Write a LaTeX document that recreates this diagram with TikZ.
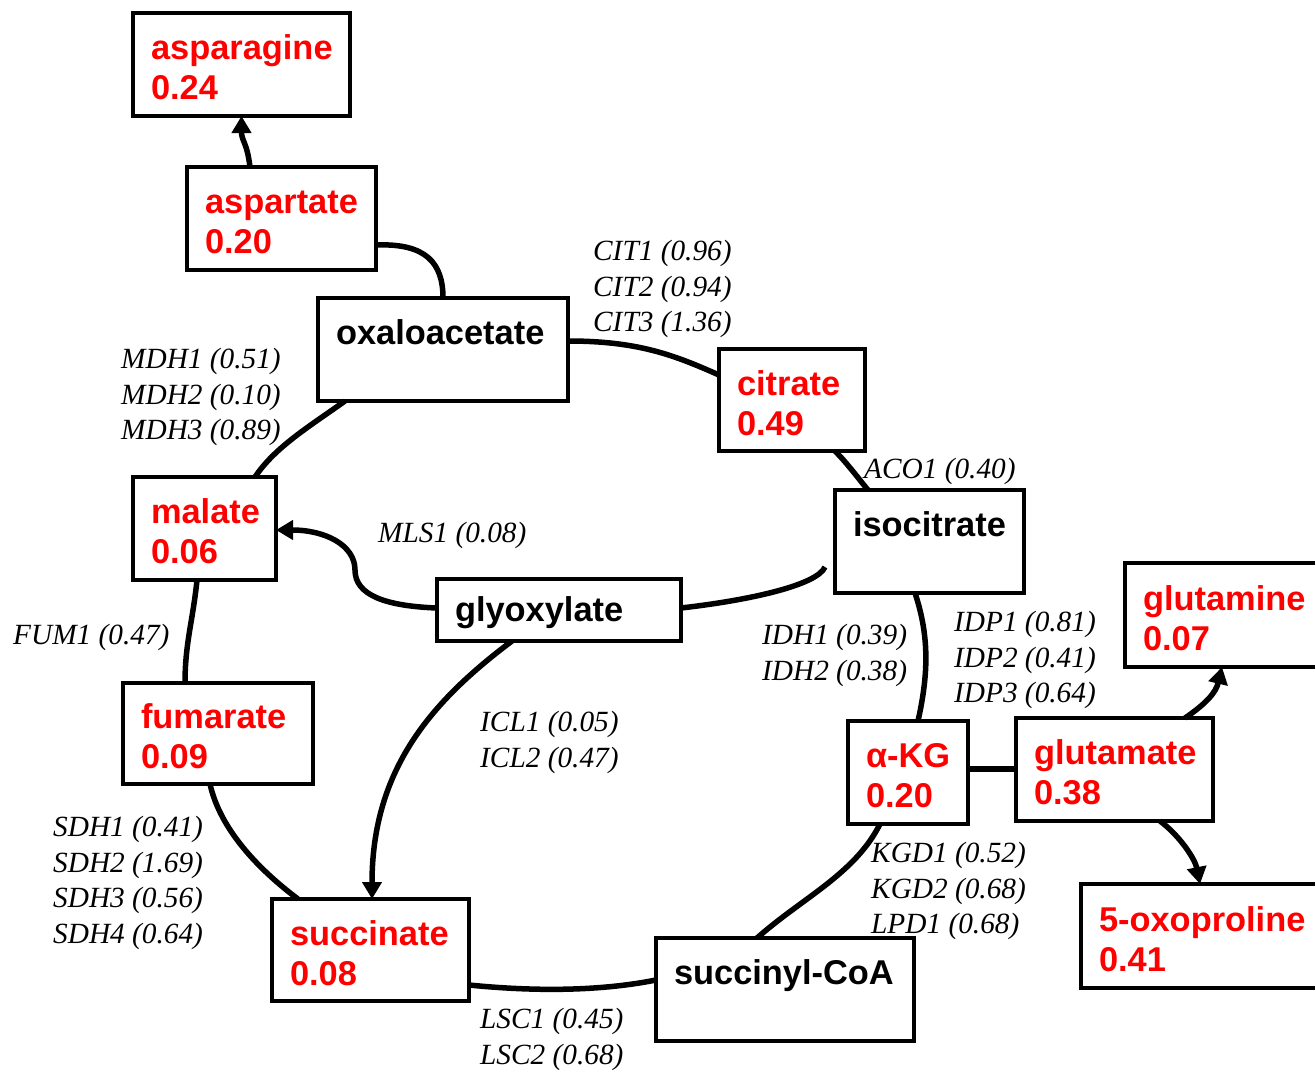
\documentclass[tikz,border=0pt]{standalone}
\usepackage{fontspec}
\setmainfont{Liberation Serif}
\newfontfamily\boxfont{Liberation Sans}
\usetikzlibrary{arrows.meta}

\begin{document}
\begin{tikzpicture}[x=1pt,y=-1pt]
\tikzset{
  MetStyle/.style = {draw, line width=4pt, outer sep=0pt, inner xsep=18pt,
                     inner ysep=0pt, minimum height=103pt, align=left,
                     anchor=north west, execute at begin node={\rule{0pt}{31pt}},
                     font=\boxfont\bfseries\fontsize{34.4}{40}\selectfont},
  RedStyle/.style = {MetStyle, text=red},
  EnzStyle/.style = {inner sep=0pt, anchor=north west, align=left,
                     font=\itshape\fontsize{29.3}{35.5}\selectfont},
  EdgeStyle/.style = {line width=5.5pt},
  ArrowStyle/.style = {EdgeStyle, -{Triangle[width=19pt,length=17pt]}},
}
\clip (0,0) rectangle (1315,1069);

  % metabolites
  \node[RedStyle, text width=181pt] (asparagine) at (133,13) {asparagine\\0.24};
  \node[RedStyle, text width=153pt] (aspartate) at (187,167) {aspartate\\0.20};
  \node[MetStyle, text width=214pt] (oxaloacetate) at (318,298) {oxaloacetate\\\phantom{0}};
  \node[RedStyle, text width=110pt, minimum height=102pt] (citrate) at (719,349) {citrate\\0.49};
  \node[MetStyle, text width=153pt] (isocitrate) at (835,490) {isocitrate\\\phantom{0}};
  \node[RedStyle, text width=107pt] (malate) at (133,477) {malate\\0.06};
  \node[MetStyle, text width=208pt, minimum height=62pt] (glyoxylate) at (437,579) {glyoxylate};
  \node[RedStyle, text width=154pt, minimum height=101pt] (fumarate) at (123,683) {fumarate\\0.09};
  \node[RedStyle, text width=161pt, minimum height=102pt] (succinate) at (272,899) {succinate\\0.08};
  \node[MetStyle, text width=222pt] (succinylcoa) at (656,938) {succinyl-CoA\\\phantom{0}};
  \node[RedStyle, text width=84pt] (akg) at (848,721) {\mbox{α-KG}\\0.20};
  \node[RedStyle, text width=161pt] (glutamate) at (1016,718) {glutamate\\0.38};
  \node[RedStyle, text width=162pt, minimum height=104pt] (glutamine) at (1125,563) {glutamine\\0.07};
  \node[RedStyle, text width=208pt, minimum height=104pt] (oxoproline) at (1081,884) {5-oxoproline\\0.41};

  % enzymes
  \node[EnzStyle] (cit) at (593,240) {CIT1 (0.96)\\CIT2 (0.94)\\CIT3 (1.36)};
  \node[EnzStyle] (mdh) at (121,348) {MDH1 (0.51)\\MDH2 (0.10)\\MDH3 (0.89)};
  \node[EnzStyle] (aco) at (864,458) {ACO1 (0.40)};
  \node[EnzStyle] (mls) at (378,522) {MLS1 (0.08)};
  \node[EnzStyle] (fum) at (13,624) {FUM1 (0.47)};
  \node[EnzStyle] (idh) at (762,624) {IDH1 (0.39)\\IDH2 (0.38)};
  \node[EnzStyle] (idp) at (954,611) {IDP1 (0.81)\\IDP2 (0.41)\\IDP3 (0.64)};
  \node[EnzStyle] (icl) at (480,711) {ICL1 (0.05)\\ICL2 (0.47)};
  \node[EnzStyle] (sdh) at (53,816) {SDH1 (0.41)\\SDH2 (1.69)\\SDH3 (0.56)\\SDH4 (0.64)};
  \node[EnzStyle] (kgd) at (871,842) {KGD1 (0.52)\\KGD2 (0.68)\\LPD1 (0.68)};
  \node[EnzStyle] (lsc) at (480,1008) {LSC1 (0.45)\\LSC2 (0.68)};

  % cycle
  \draw[ArrowStyle] ([xshift=-31.5pt]aspartate.north) .. controls +(-3,-25) and +(0,25) .. (asparagine.south);
  \draw[EdgeStyle] ([yshift=-26.5pt]aspartate.east) .. controls +(50,-2) and +(0,-35) .. (oxaloacetate.north);
  \draw[EdgeStyle] ([yshift=8.5pt]oxaloacetate.east) .. controls +(70,0) and +(-45,-20) .. ([yshift=25pt]citrate.west);
  \draw[EdgeStyle] ([xshift=43pt]citrate.south) .. controls +(12,12) and +(-10,-12) .. ([xshift=-61.5pt]isocitrate.north);
  \draw[EdgeStyle] ([xshift=-14.5pt]isocitrate.south) .. controls +(15,45) and +(10,-45) .. ([xshift=10pt]akg.north);
  \draw[EdgeStyle] ([yshift=3.5pt]akg.east) -- ([yshift=0.5pt]glutamate.west);
  \draw[ArrowStyle] ([xshift=70.5pt]glutamate.north) .. controls +(22,-15) and +(-6,25) .. ([xshift=-2pt]glutamine.south);
  \draw[ArrowStyle] ([xshift=45.5pt]glutamate.south) .. controls +(20,15) and +(-5,-25) .. ([xshift=-3pt]oxoproline.north);
  \draw[EdgeStyle] ([xshift=-28pt]akg.south) .. controls +(-25,50) and +(45,-40) .. ([xshift=-28pt]succinylcoa.north);
  \draw[EdgeStyle] ([yshift=9.5pt]succinylcoa.west) .. controls +(-60,12) and +(60,6) .. ([yshift=-35pt]succinate.east);
  \draw[EdgeStyle] ([xshift=-72.5pt]succinate.north) .. controls +(-40,-30) and +(10,45) .. ([xshift=-8pt]fumarate.south);
  \draw[EdgeStyle] ([xshift=-33pt]fumarate.north) .. controls +(0,-40) and +(-4,40) .. ([xshift=-7.5pt]malate.south);
  \draw[EdgeStyle] ([xshift=50.5pt]malate.north) .. controls +(20,-30) and +(-35,25) .. ([xshift=-98pt]oxaloacetate.south);

  % glyoxylate shunt
  \coordinate (isoend) at ([xshift=-10pt,yshift=-25.5pt]isocitrate.west);
  \draw[EdgeStyle] (isoend) .. controls +(-8,18) and +(70,-8) .. ([yshift=2pt]glyoxylate.east);
  \draw[ArrowStyle] ([yshift=2pt]glyoxylate.west) .. controls (385,606) and (355,595) .. (355,570)
     .. controls (355,545) and (325,530) .. ([yshift=-1.5pt]malate.east);
  \draw[ArrowStyle] ([xshift=-47pt]glyoxylate.south) .. controls +(-80,60) and +(0,-130) .. ([xshift=1.5pt]succinate.north);

\end{tikzpicture}
\end{document}
